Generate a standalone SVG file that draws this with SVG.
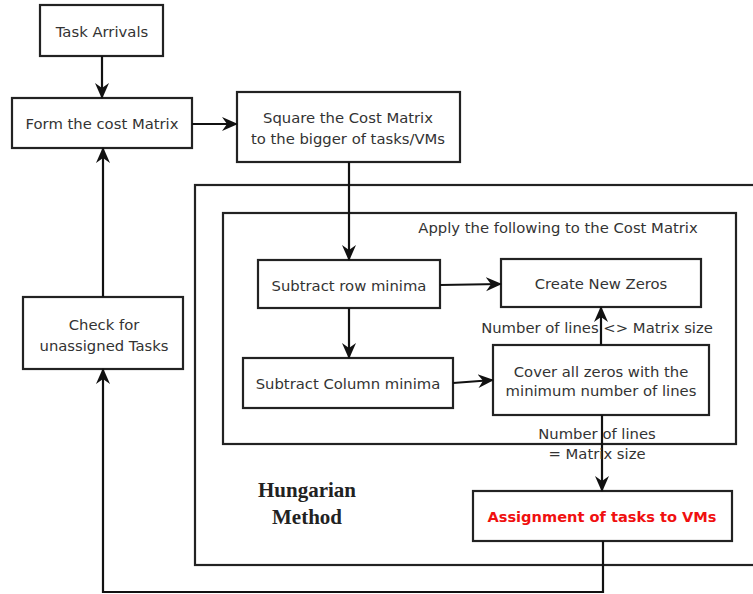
<svg xmlns="http://www.w3.org/2000/svg" width="753" height="594" viewBox="0 0 753 594">
<style>
.box{fill:#fff;stroke:#222;stroke-width:2.2}
.frame{fill:none;stroke:#222;stroke-width:2.2}
.t{font-family:"DejaVu Sans",Verdana,sans-serif;font-size:14.8px;fill:#333;text-anchor:middle}
.red{font-family:"DejaVu Sans",Verdana,sans-serif;font-size:14.6px;font-weight:bold;fill:#f01010;text-anchor:middle}
.hm{font-family:"Liberation Serif","Times New Roman",serif;font-size:21px;font-weight:bold;fill:#222;text-anchor:middle}
.c{fill:none;stroke:#111;stroke-width:2.2}
</style>
<defs>
<marker id="ah" viewBox="0 0 16 16" refX="15" refY="8" markerWidth="16" markerHeight="16" markerUnits="userSpaceOnUse" orient="auto">
<path d="M0,1 L16,8 L0,15 L5,8 z" fill="#111"/>
</marker>
</defs>
<rect width="753" height="594" fill="#fff"/>
<g id="hungarian-frame">
<rect class="frame" x="195" y="185" width="570" height="380"/>
<text class="hm" x="307" y="497">Hungarian</text>
<text class="hm" x="307" y="524">Method</text>
</g>
<g id="apply-frame">
<rect class="frame" x="223" y="213" width="513" height="231"/>
<text class="t" x="558" y="233">Apply the following to the Cost Matrix</text>
</g>
<g id="task-arrivals">
<rect class="box" x="40" y="5" width="123" height="51"/>
<text class="t" x="102" y="37">Task Arrivals</text>
</g>
<g id="form-cost-matrix">
<rect class="box" x="12" y="98" width="180" height="50"/>
<text class="t" x="102" y="129">Form the cost Matrix</text>
</g>
<g id="square-cost-matrix">
<rect class="box" x="237" y="92" width="223" height="70"/>
<text class="t" x="348" y="123">Square the Cost Matrix</text>
<text class="t" x="348" y="144">to the bigger of tasks/VMs</text>
</g>
<g id="check-unassigned">
<rect class="box" x="23" y="297" width="160" height="72"/>
<text class="t" x="104" y="330">Check for</text>
<text class="t" x="104" y="351">unassigned Tasks</text>
</g>
<g id="subtract-row">
<rect class="box" x="258" y="260" width="182" height="48"/>
<text class="t" x="349" y="291">Subtract row minima</text>
</g>
<g id="create-zeros">
<rect class="box" x="501" y="259" width="200" height="48"/>
<text class="t" x="601" y="289">Create New Zeros</text>
</g>
<g id="subtract-column">
<rect class="box" x="243" y="358" width="210" height="50"/>
<text class="t" x="348" y="389">Subtract Column minima</text>
</g>
<g id="cover-zeros">
<rect class="box" x="493" y="345" width="216" height="70"/>
<text class="t" x="601" y="377">Cover all zeros with the</text>
<text class="t" x="601" y="396">minimum number of lines</text>
</g>
<g id="assignment">
<rect class="box" x="473" y="491" width="259" height="50"/>
<text class="red" x="602" y="522">Assignment of tasks to VMs</text>
</g>
<g id="connectors">
<line class="c" x1="102" y1="56" x2="102" y2="98" marker-end="url(#ah)"/>
<line class="c" x1="192" y1="124" x2="237" y2="124" marker-end="url(#ah)"/>
<line class="c" x1="349" y1="162" x2="349" y2="260" marker-end="url(#ah)"/>
<line class="c" x1="440" y1="285" x2="501" y2="284" marker-end="url(#ah)"/>
<line class="c" x1="349" y1="308" x2="349" y2="358" marker-end="url(#ah)"/>
<line class="c" x1="453" y1="383" x2="493" y2="380" marker-end="url(#ah)"/>
<line class="c" x1="601" y1="345" x2="601" y2="307" marker-end="url(#ah)"/>
<line class="c" x1="602" y1="415" x2="602" y2="491" marker-end="url(#ah)"/>
<polyline class="c" points="603,541 603,592 103,592 103,369" marker-end="url(#ah)"/>
<line class="c" x1="103" y1="297" x2="103" y2="148" marker-end="url(#ah)"/>
<text class="t" x="597" y="333">Number of lines &lt;&gt; Matrix size</text>
<text class="t" x="597" y="439">Number of lines</text>
<text class="t" x="597" y="459">= Matrix size</text>
</g>
</svg>
